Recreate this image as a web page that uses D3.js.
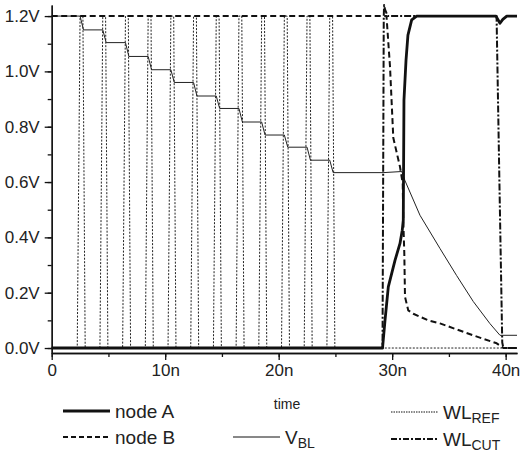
<!DOCTYPE html>
<html>
<head>
<meta charset="utf-8">
<script src="https://cdn.jsdelivr.net/npm/d3@7"></script>
<style>
  body { margin: 0; background: #fff; }
  svg { display: block; font-family: "Liberation Sans", Arial, sans-serif; }
</style>
</head>
<body>
<div id="chart"></div>
<script>
// time in ns, voltage in V

var yTicks = [0, 0.2, 0.4, 0.6, 0.8, 1.0, 1.2];
var yLabels = ["0.0V", "0.2V", "0.4V", "0.6V", "0.8V", "1.0V", "1.2V"];
var xTicks = [0, 10, 20, 30, 40];
var xLabels = ["0", "10n", "20n", "30n", "40n"];

var nodeA = [[0, 0], [29.15, 0], [29.37, 0.1], [29.66, 0.221], [30.25, 0.317], [30.69, 0.378],
  [30.89, 0.426], [30.98, 0.462], [31.04, 0.896], [31.22, 1.04], [31.39, 1.131], [31.72, 1.186],
  [32.16, 1.2], [39.15, 1.2], [39.5, 1.174], [39.75, 1.188], [40.1, 1.2], [41, 1.2]];

var nodeB = [[0, 1.2], [29.5, 1.2], [29.81, 1.017], [30.1, 0.76], [30.69, 0.655], [30.93, 0.595],
  [30.98, 0.462], [31.07, 0.342], [31.13, 0.185], [31.42, 0.136], [31.86, 0.124], [33.18, 0.1],
  [34.21, 0.089], [37.12, 0.046], [39.21, 0.017], [39.7, 0.003], [39.8, 0], [41, 0]];

var vBL = [[0, 1.2], [2.5, 1.2], [2.8, 1.15], [4.5, 1.15], [4.8, 1.104], [6.5, 1.104], [6.8, 1.054],
  [8.5, 1.054], [8.8, 1.006], [10.5, 1.006], [10.8, 0.96], [12.5, 0.96], [12.8, 0.911],
  [14.5, 0.911], [14.8, 0.866], [16.5, 0.866], [16.8, 0.817], [18.5, 0.817], [18.8, 0.77],
  [20.5, 0.77], [20.8, 0.726], [22.5, 0.726], [22.8, 0.679], [24.5, 0.679], [24.8, 0.634],
  [29.2, 0.634], [30.85, 0.638], [31.13, 0.605], [32.45, 0.48], [34.21, 0.36], [35.68, 0.262],
  [37.15, 0.168], [38.62, 0.088], [39.5, 0.046], [41, 0.046]];

var wlRef = [[0, 0],
  [2.25, 0], [2.5, 1.2], [2.75, 1.2], [2.95, 0],
  [4.25, 0], [4.5, 1.2], [4.75, 1.2], [4.95, 0],
  [6.25, 0], [6.5, 1.2], [6.75, 1.2], [6.95, 0],
  [8.25, 0], [8.5, 1.2], [8.75, 1.2], [8.95, 0],
  [10.25, 0], [10.5, 1.2], [10.75, 1.2], [10.95, 0],
  [12.25, 0], [12.5, 1.2], [12.75, 1.2], [12.95, 0],
  [14.25, 0], [14.5, 1.2], [14.75, 1.2], [14.95, 0],
  [16.25, 0], [16.5, 1.2], [16.75, 1.2], [16.95, 0],
  [18.25, 0], [18.5, 1.2], [18.75, 1.2], [18.95, 0],
  [20.25, 0], [20.5, 1.2], [20.75, 1.2], [20.95, 0],
  [22.25, 0], [22.5, 1.2], [22.75, 1.2], [22.95, 0],
  [24.25, 0], [24.5, 1.2], [24.75, 1.2], [24.95, 0],
  [41, 0]];

var wlCut = [[0, 0], [29.15, 0], [29.26, 1.2], [29.29, 1.24], [29.36, 1.225], [29.6, 1.2],
  [39.2, 1.2], [39.45, 0.6], [39.7, 0.02], [39.8, 0], [41, 0]];

var width = 525, height = 453;

var svg = d3.select("#chart").append("svg")
  .attr("width", width)
  .attr("height", height);

var x = d3.scaleLinear().domain([0, 41]).range([51.7, 517]);
var y = d3.scaleLinear().domain([-0.018, 1.24]).range([353, 5]);

// axes
var xMinor = d3.axisBottom(x).tickValues(d3.range(0, 41, 5)).tickSize(4).tickSizeOuter(0).tickFormat("");
var xMajor = d3.axisBottom(x).tickValues(xTicks).tickSize(7).tickSizeOuter(0)
  .tickFormat((d, i) => xLabels[i]).tickPadding(4);
var yMinor = d3.axisLeft(y).tickValues(d3.range(0, 13).map(d => d / 10)).tickSize(4).tickSizeOuter(0).tickFormat("");
var yMajor = d3.axisLeft(y).tickValues(yTicks).tickSize(7).tickSizeOuter(0)
  .tickFormat((d, i) => yLabels[i]).tickPadding(5);

[xMinor, xMajor].forEach(a => {
  svg.append("g").attr("transform", "translate(0," + y.range()[0] + ")").call(a);
});
[yMinor, yMajor].forEach(a => {
  svg.append("g").attr("transform", "translate(" + x.range()[0] + ",0)").call(a);
});

svg.selectAll(".domain, .tick line").attr("stroke", "#111").attr("stroke-width", 1.3);
svg.selectAll(".tick text")
  .attr("font-family", "Liberation Sans, Arial, sans-serif")
  .attr("font-size", 17)
  .attr("fill", "#222");

svg.append("text")
  .attr("x", 287).attr("y", 409)
  .attr("text-anchor", "middle")
  .attr("font-size", 14)
  .attr("fill", "#222")
  .text("time");

// lines
var line = d3.line().x(d => x(d[0])).y(d => y(d[1]));

var series = [
  { name: "wlRef", data: wlRef, w: 1, dash: "2,1.5", color: "#222" },
  { name: "vBL", data: vBL, w: 1, dash: null, color: "#222" },
  { name: "nodeB", data: nodeB, w: 2, dash: "6,3.5", color: "#111" },
  { name: "wlCut", data: wlCut, w: 2, dash: "7,2,2,2", color: "#111" },
  { name: "nodeA", data: nodeA, w: 2.8, dash: null, color: "#111" }
];

svg.append("g").selectAll("path")
  .data(series)
  .enter().append("path")
  .attr("d", d => line(d.data))
  .attr("fill", "none")
  .attr("stroke", d => d.color)
  .attr("stroke-width", d => d.w)
  .attr("stroke-dasharray", d => d.dash)
  .attr("stroke-linejoin", "round");

// legend
var legend = [
  { x: 63, y: 411, w: 2.8, dash: null, label: "node A", sub: "" },
  { x: 63, y: 437, w: 2, dash: "5,3", label: "node B", sub: "" },
  { x: 233, y: 437, w: 1, dash: null, label: "V", sub: "BL" },
  { x: 391, y: 412, w: 1, dash: "1.5,1", label: "WL", sub: "REF" },
  { x: 391, y: 439, w: 2, dash: "6,2,2,2", label: "WL", sub: "CUT" }
];

var lg = svg.append("g").selectAll("g")
  .data(legend)
  .enter().append("g");

lg.append("line")
  .attr("x1", d => d.x).attr("x2", d => d.x + 47)
  .attr("y1", d => d.y).attr("y2", d => d.y)
  .attr("stroke", "#111")
  .attr("stroke-width", d => d.w)
  .attr("stroke-dasharray", d => d.dash);

var lt = lg.append("text")
  .attr("x", d => d.x + 52)
  .attr("y", d => d.y + 7)
  .attr("font-size", 19)
  .attr("fill", "#222");

lt.append("tspan").text(d => d.label);
lt.append("tspan")
  .attr("dy", 4)
  .attr("font-size", 14)
  .text(d => d.sub);
</script>
</body>
</html>
